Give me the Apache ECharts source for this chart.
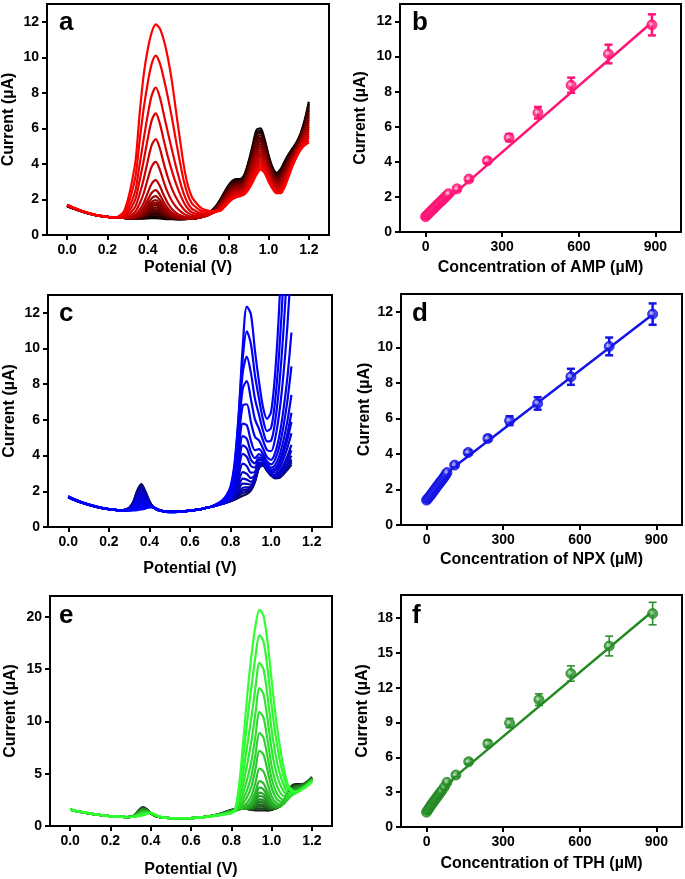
<!DOCTYPE html>
<html><head><meta charset="utf-8">
<script src="https://cdn.jsdelivr.net/npm/echarts@6/dist/echarts.min.js"></script>
<style>html,body{margin:0;padding:0;background:#fff}#c{width:685px;height:879px}</style>
</head><body><div id="c"></div><script>
// ---------- tick labels ----------
const potTicks = [0, 0.2, 0.4, 0.6, 0.8, 1.0, 1.2];
const concTicks = [0, 300, 600, 900];
const curTicks12 = [0, 2, 4, 6, 8, 10, 12];
const curTicks20 = [0, 5, 10, 15, 20];
const curTicks18 = [0, 3, 6, 9, 12, 15, 18];

// ---------- panel a (AMP DPV) ----------
const potA = [0.00,0.02,0.04,0.06,0.08,0.10,0.12,0.14,0.16,0.18,0.20,0.22,0.24,0.26,0.28,0.30,0.32,0.34,0.36,0.38,0.40,0.42,0.44,0.46,0.48,0.50,0.52,0.54,0.56,0.58,0.60,0.62,0.64,0.66,0.68,0.70,0.72,0.74,0.76,0.78,0.80,0.82,0.84,0.86,0.88,0.90,0.92,0.94,0.96,0.98,1.00,1.02,1.04,1.06,1.08,1.10,1.12,1.14,1.16,1.18,1.20];
const baseA_low = [1.62,1.53,1.45,1.37,1.30,1.23,1.17,1.12,1.08,1.05,1.02,1.00,0.99,0.98,0.96,0.94,0.93,0.92,0.91,0.90,0.90,0.89,0.89,0.88,0.88,0.88,0.88,0.88,0.88,0.89,0.90,0.92,0.95,1.00,1.08,1.20,1.40,1.65,2.00,2.40,2.78,3.05,3.15,3.15,3.40,4.10,5.00,5.90,6.00,5.40,4.50,3.80,3.50,3.70,4.15,4.55,4.90,5.25,5.75,6.50,7.50];
const baseA_high = [1.70,1.60,1.50,1.41,1.33,1.26,1.19,1.13,1.09,1.05,1.02,1.00,0.99,0.98,0.96,0.94,0.93,0.92,0.91,0.90,0.90,0.89,0.89,0.88,0.88,0.88,0.88,0.88,0.88,0.89,0.90,0.92,0.94,0.97,1.00,1.05,1.12,1.22,1.36,1.56,1.80,2.00,2.12,2.18,2.28,2.55,2.95,3.40,3.68,3.50,3.00,2.60,2.35,2.35,2.70,3.30,3.90,4.40,4.80,5.05,5.20];
const shapeA_narrow = [0,0,0,0,0,0,0,0,0,0,0,0,0,0,0,0.005,0.02,0.06,0.15,0.33,0.62,0.90,1.00,0.82,0.54,0.31,0.16,0.08,0.04,0.02,0.01,0,0,0,0,0,0,0,0,0,0,0,0,0,0,0,0,0,0,0,0,0,0,0,0,0,0,0,0,0,0];
const shapeA_wide = [0,0,0,0,0,0,0,0,0,0,0,0,0,0.01,0.03,0.09,0.18,0.30,0.54,0.74,0.87,0.96,1.00,0.98,0.92,0.83,0.71,0.56,0.41,0.27,0.17,0.11,0.08,0.055,0.04,0.03,0.02,0.01,0,0,0,0,0,0,0,0,0,0,0,0,0,0,0,0,0,0,0,0,0,0,0];
const peaksA = [0.95,1.05,1.15,1.25,1.35,1.45,1.56,1.69,1.82,1.97,2.19,2.53,3.09,4.12,5.40,6.85,8.30,10.10,11.85];

// ---------- panel b (AMP calibration) ----------
const concB = [0,5,10,15,20,25,30,35,40,45,50,55,60,65,70,75,80,85,90,123,170,242,327,440,570,716,886];
const currB = [0.87,0.95,1.01,1.10,1.16,1.25,1.30,1.39,1.45,1.54,1.60,1.68,1.73,1.82,1.87,1.96,2.02,2.10,2.18,2.46,3.02,4.06,5.38,6.80,8.37,10.15,11.81];
const errB = [0.07,0.07,0.07,0.07,0.07,0.07,0.07,0.07,0.07,0.07,0.07,0.07,0.07,0.07,0.07,0.07,0.07,0.07,0.07,0.09,0.11,0.14,0.20,0.33,0.43,0.53,0.60];
const fitB_x = [0, 890];
const fitB_y = [0.76, 12.0];

// ---------- panel c (NPX DPV) ----------
const potC = [0.00,0.02,0.04,0.06,0.08,0.10,0.12,0.14,0.16,0.18,0.20,0.22,0.24,0.26,0.28,0.30,0.32,0.34,0.36,0.38,0.40,0.42,0.44,0.46,0.48,0.50,0.52,0.54,0.56,0.58,0.60,0.62,0.64,0.66,0.68,0.70,0.72,0.74,0.76,0.78,0.80,0.82,0.84,0.86,0.88,0.90,0.92,0.94,0.96,0.98,1.00,1.02,1.04,1.06,1.08,1.10];
const baseC_low = [1.65,1.55,1.46,1.38,1.31,1.24,1.18,1.12,1.07,1.03,1.00,0.97,0.95,0.94,0.97,1.08,1.40,2.05,2.40,2.00,1.45,1.10,0.95,0.90,0.88,0.87,0.87,0.87,0.88,0.90,0.92,0.95,0.98,1.02,1.07,1.12,1.18,1.24,1.30,1.37,1.44,1.51,1.58,1.66,1.78,2.00,2.50,3.30,3.45,3.15,2.88,2.73,2.75,2.95,3.20,3.50];
const baseC_high = [1.72,1.61,1.51,1.42,1.34,1.27,1.20,1.14,1.09,1.04,1.00,0.97,0.95,0.93,0.92,0.92,0.93,0.95,0.98,1.03,1.10,1.10,1.00,0.90,0.85,0.83,0.83,0.84,0.86,0.88,0.91,0.95,0.98,1.02,1.07,1.12,1.18,1.24,1.30,1.37,1.44,1.51,1.58,1.66,1.78,2.00,2.50,3.30,3.45,3.15,2.88,2.73,2.75,2.95,3.20,3.50];
const shapeC_narrow = [0,0,0,0,0,0,0,0,0,0,0,0,0,0,0,0,0,0,0,0,0,0,0,0,0,0,0,0,0,0,0,0,0,0,0,0,0,0,0,0.01,0.05,0.25,0.70,1.00,0.80,0.45,0.22,0.10,0.04,0.01,0,0,0,0,0,0];
const shapeC_wide = [0,0,0,0,0,0,0,0,0,0,0,0,0,0,0,0,0,0,0,0,0,0,0,0,0,0,0,0,0,0,0,0,0,0,0,0,0.005,0.01,0.02,0.04,0.08,0.20,0.45,0.80,1.00,0.94,0.70,0.46,0.28,0.16,0.08,0.04,0.015,0,0,0];
const riseC = [0,0,0,0,0,0,0,0,0,0,0,0,0,0,0,0,0,0,0,0,0,0,0,0,0,0,0,0,0,0,0,0,0,0,0,0,0,0,0,0,0,0,0,0,0,0,0,0,0.01,0.04,0.09,0.18,0.31,0.48,0.70,1.00];
const peaksC = [1.75,1.90,2.05,2.20,2.43,2.71,3.08,3.55,4.10,4.57,5.09,5.79,6.81,8.17,9.55,10.97,12.35];
const endsC = [3.5,3.6,3.7,3.8,4.0,4.3,4.6,5.25,5.9,6.4,7.4,9.0,10.9,15,20,26,34];

// ---------- panel d (NPX calibration) ----------
const concD = [0,5,10,15,20,25,30,35,40,45,50,55,60,65,70,75,80,110,163,240,325,435,565,715,885];
const currD = [1.40,1.48,1.57,1.66,1.75,1.86,1.95,2.05,2.15,2.24,2.34,2.43,2.52,2.62,2.72,2.82,2.95,3.37,4.08,4.87,5.87,6.84,8.34,10.05,11.87];
const errD = [0.07,0.07,0.07,0.07,0.07,0.07,0.07,0.07,0.07,0.07,0.07,0.07,0.07,0.07,0.07,0.07,0.07,0.09,0.12,0.15,0.25,0.35,0.45,0.50,0.60];
const fitD_x = [0, 100, 885];
const fitD_y = [1.35, 3.18, 11.85];

// ---------- panel e (TPH DPV) ----------
const potE = [0.00,0.02,0.04,0.06,0.08,0.10,0.12,0.14,0.16,0.18,0.20,0.22,0.24,0.26,0.28,0.30,0.32,0.34,0.36,0.38,0.40,0.42,0.44,0.46,0.48,0.50,0.52,0.54,0.56,0.58,0.60,0.62,0.64,0.66,0.68,0.70,0.72,0.74,0.76,0.78,0.80,0.82,0.84,0.86,0.88,0.90,0.92,0.94,0.96,0.98,1.00,1.02,1.04,1.06,1.08,1.10,1.12,1.14,1.16,1.18,1.20];
const baseE_low = [1.55,1.46,1.38,1.31,1.24,1.18,1.12,1.07,1.02,0.98,0.94,0.91,0.88,0.86,0.85,0.87,1.02,1.50,1.80,1.62,1.22,0.96,0.86,0.80,0.77,0.75,0.74,0.74,0.74,0.75,0.76,0.78,0.81,0.85,0.90,0.97,1.05,1.15,1.27,1.42,1.55,1.63,1.70,1.72,1.62,1.50,1.42,1.38,1.38,1.40,1.50,1.65,1.90,2.40,3.20,3.85,4.00,4.00,4.05,4.30,4.70];
const baseE_high = [1.58,1.49,1.41,1.34,1.27,1.20,1.14,1.08,1.03,0.99,0.95,0.92,0.89,0.87,0.86,0.86,0.88,0.93,1.02,1.15,1.25,1.12,0.93,0.83,0.78,0.75,0.74,0.74,0.74,0.75,0.76,0.78,0.81,0.84,0.88,0.92,0.97,1.02,1.08,1.15,1.22,1.30,1.38,1.42,1.40,1.35,1.31,1.30,1.30,1.32,1.38,1.45,1.55,1.70,1.90,2.30,2.70,3.10,3.50,3.85,4.20];
const shapeE_narrow = [0,0,0,0,0,0,0,0,0,0,0,0,0,0,0,0,0,0,0,0,0,0,0,0,0,0,0,0,0,0,0,0,0,0,0,0,0,0,0,0,0,0,0,0.02,0.08,0.25,0.60,1.00,0.92,0.60,0.27,0.10,0.03,0.01,0,0,0,0,0,0,0];
const shapeE_wide = [0,0,0,0,0,0,0,0,0,0,0,0,0,0,0,0,0,0,0,0,0,0,0,0,0,0,0,0,0,0,0,0,0,0,0,0,0,0,0,0,0,0.02,0.14,0.35,0.58,0.77,0.92,1.00,0.97,0.84,0.65,0.47,0.32,0.20,0.11,0.06,0.03,0.015,0.005,0,0];
const peaksE = [1.50,1.70,1.90,2.07,2.30,2.55,2.87,3.20,3.67,4.30,5.50,7.20,8.90,10.90,13.20,15.60,18.25,20.70];

// ---------- panel f (TPH calibration) ----------
const concF = [0,5,10,15,20,25,30,35,40,45,50,55,60,70,80,115,165,240,325,440,565,715,885];
const currF = [1.28,1.45,1.62,1.78,1.95,2.10,2.25,2.40,2.55,2.70,2.85,3.00,3.15,3.45,3.85,4.48,5.63,7.17,8.96,10.98,13.23,15.60,18.40];
const errF = [0.10,0.10,0.10,0.10,0.10,0.10,0.10,0.10,0.10,0.10,0.10,0.10,0.10,0.10,0.10,0.15,0.20,0.30,0.40,0.50,0.66,0.85,0.97];
const fitF_x = [0, 110, 885];
const fitF_y = [1.30, 4.30, 18.60];

// ---------- build ----------
const FONT = '"Liberation Sans", Arial, sans-serif';
const chart = echarts.init(document.getElementById('c'), null, {renderer: 'canvas'});

function curveSeries(gi, pot, bLow, bHigh, sN, sW, peaks, rise, ends, colorOf) {
  const n = peaks.length, out = [], last = pot.length - 1;
  const pMin = peaks[0], pMax = peaks[n - 1];
  for (let i = 0; i < n; i++) {
    const t = i / (n - 1), u = (peaks[i] - pMin) / (pMax - pMin);
    const base = pot.map((_, k) => bLow[k] * (1 - t) + bHigh[k] * t);
    const s = pot.map((_, k) => sN[k] * (1 - u) + sW[k] * u);
    let km = 0; s.forEach((v, k) => { if (v > s[km]) km = k; });
    const rz = k => rise ? rise[k] : 0;
    const R = rise ? ends[i] - base[last] : 0;
    const A = (peaks[i] - base[km] - R * rz(km)) / s[km];
    const data = pot.map((x, k) => [x, base[k] + A * s[k] + R * rz(k)]);
    const col = colorOf(t);
    out.push({type: 'line', xAxisIndex: gi, yAxisIndex: gi, data, showSymbol: false, symbol: 'none',
      smooth: 0.3, lineStyle: {width: 2.2, color: col}, itemStyle: {color: col}, silent: true, animation: false, z: 2});
  }
  return out;
}

function calSeries(gi, xs, ys, es, fx, fy, color, light, errW) {
  const pts = xs.map((x, i) => [x, ys[i]]);
  return [
    {type: 'line', xAxisIndex: gi, yAxisIndex: gi, data: fx.map((x, i) => [x, fy[i]]), showSymbol: false,
      symbol: 'none', lineStyle: {width: 2.5, color}, silent: true, animation: false, z: 2},
    {type: 'custom', xAxisIndex: gi, yAxisIndex: gi, data: xs.map((x, i) => [x, ys[i], es[i]]),
      encode: {x: 0, y: 1}, silent: true, animation: false, z: 3,
      renderItem: (params, api) => {
        const x = api.value(0), y = api.value(1), e = api.value(2);
        const p1 = api.coord([x, y + e]), p2 = api.coord([x, y - e]);
        const w = 4, st = {stroke: color, lineWidth: errW};
        return {type: 'group', children: [
          {type: 'line', shape: {x1: p1[0], y1: p1[1], x2: p2[0], y2: p2[1]}, style: st},
          {type: 'line', shape: {x1: p1[0] - w, y1: p1[1], x2: p1[0] + w, y2: p1[1]}, style: st},
          {type: 'line', shape: {x1: p2[0] - w, y1: p2[1], x2: p2[0] + w, y2: p2[1]}, style: st}
        ]};
      }},
    {type: 'scatter', xAxisIndex: gi, yAxisIndex: gi, data: pts, symbol: 'circle', symbolSize: 10,
      silent: true, animation: false, z: 4,
      itemStyle: {color: {type: 'radial', x: 0.42, y: 0.42, r: 0.5,
        colorStops: [{offset: 0, color: light}, {offset: 0.22, color: light}, {offset: 0.5, color: color}, {offset: 1, color: color}]},
        borderColor: color, borderWidth: 1}}
  ];
}

const grids = [
  {left: 46, top: 4, width: 283, height: 231},
  {left: 400, top: 4, width: 281, height: 228},
  {left: 48, top: 295, width: 284, height: 232},
  {left: 401, top: 294, width: 281, height: 231},
  {left: 50, top: 596, width: 282, height: 231},
  {left: 401, top: 595, width: 281, height: 232}
].map(g => Object.assign({show: true, borderColor: '#000', borderWidth: 2, backgroundColor: 'transparent', containLabel: false}, g));

function axisCommon(ticks, fmt) {
  return {
    axisLine: {show: true, onZero: false, lineStyle: {color: '#000', width: 2}},
    axisTick: {show: true, inside: false, length: 5, lineStyle: {color: '#000', width: 2}, customValues: ticks},
    axisLabel: {show: true, customValues: ticks, formatter: fmt, color: '#000', fontFamily: FONT,
      fontWeight: 'bold', fontSize: 14, margin: 8},
    splitLine: {show: false},
    nameLocation: 'middle',
    nameTextStyle: {color: '#000', fontFamily: FONT, fontWeight: 'bold', fontSize: 16}
  };
}
const potFmt = v => v.toFixed(1);
const intFmt = v => String(Math.round(v));

function xPot(gi, name, gap) {
  return Object.assign(axisCommon(potTicks, potFmt), {type: 'value', gridIndex: gi, min: -0.1, max: 1.3, name, nameGap: gap});
}
function xConc(gi, name, gap) {
  return Object.assign(axisCommon(concTicks, intFmt), {type: 'value', gridIndex: gi, min: -100, max: 1000, name, nameGap: gap});
}
function yCur(gi, max, ticks, gap) {
  return Object.assign(axisCommon(ticks, intFmt), {type: 'value', gridIndex: gi, min: 0, max, name: 'Current (µA)', nameGap: gap});
}

const series = [].concat(
  curveSeries(0, potA, baseA_low, baseA_high, shapeA_narrow, shapeA_wide, peaksA, null, null,
    t => `rgb(${Math.round(255 * Math.pow(t, 0.8))},0,0)`),
  calSeries(1, concB, currB, errB, fitB_x, fitB_y, '#ff1476', '#f7c2d6', 2.5),
  curveSeries(2, potC, baseC_low, baseC_high, shapeC_narrow, shapeC_wide, peaksC, riseC, endsC,
    t => { const p = Math.pow(t, 0.35); return `rgb(${Math.round(10 * (1 - p))},${Math.round(10 * (1 - p))},${Math.round(70 + 185 * p)})`; }),
  calSeries(3, concD, currD, errD, fitD_x, fitD_y, '#1414e6', '#b4b4f2', 2.5),
  curveSeries(4, potE, baseE_low, baseE_high, shapeE_narrow, shapeE_wide, peaksE, null, null,
    t => { const p = Math.pow(t, 0.6); return `rgb(${Math.round(20 + 30 * p)},${Math.round(30 + 225 * p)},${Math.round(20 + 30 * p)})`; }),
  calSeries(5, concF, currF, errF, fitF_x, fitF_y, '#238b23', '#a4d6a4', 1.5)
);

const letters = [['a', 59, 23], ['b', 412, 23], ['c', 59, 314], ['d', 412, 314], ['e', 59, 616], ['f', 412, 616]];

chart.setOption({
  animation: false,
  backgroundColor: '#fff',
  grid: grids,
  xAxis: [
    xPot(0, 'Potenial (V)', 25),
    xConc(1, 'Concentration of AMP (µM)', 28),
    xPot(2, 'Potential (V)', 34),
    xConc(3, 'Concentration of NPX (µM)', 27),
    xPot(4, 'Potential (V)', 36),
    xConc(5, 'Concentration of TPH (µM)', 29)
  ],
  yAxis: [
    yCur(0, 13, curTicks12, 30),
    yCur(1, 13, curTicks12, 31),
    yCur(2, 13, curTicks12, 30),
    yCur(3, 13, curTicks12, 28),
    yCur(4, 22, curTicks20, 31),
    yCur(5, 20, curTicks18, 30)
  ],
  series,
  graphic: letters.map(([txt, x, y]) => ({type: 'text', x, y, z: 100, silent: true,
    style: {text: txt, fill: '#000', font: 'bold 26px ' + FONT, verticalAlign: 'middle', align: 'left'}}))
});
</script></body></html>
